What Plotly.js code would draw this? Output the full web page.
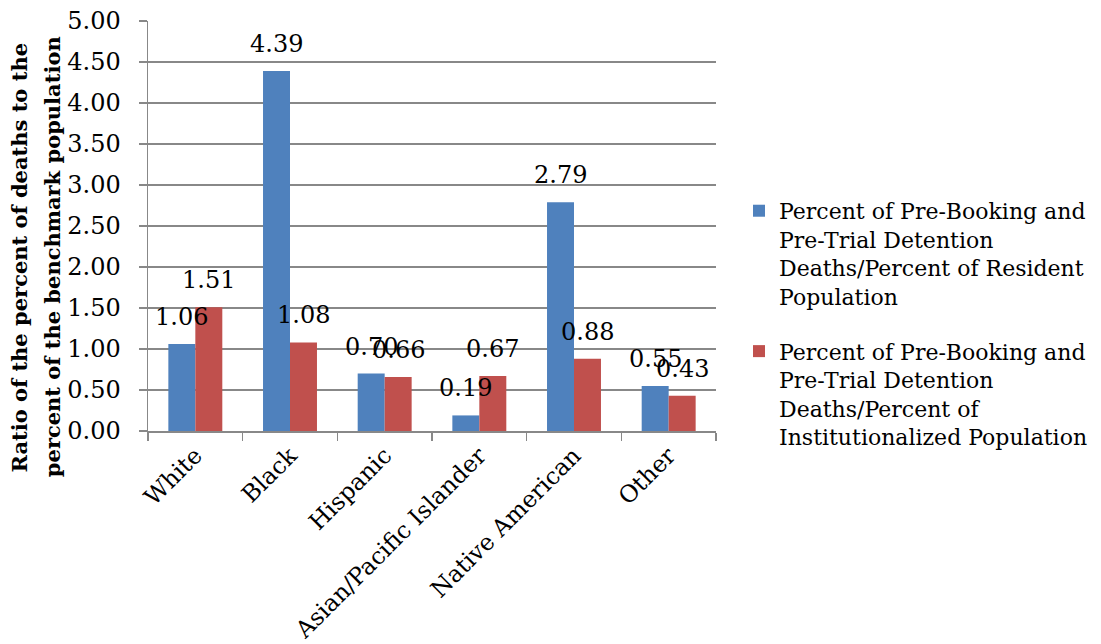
<!DOCTYPE html>
<html>
<head>
<meta charset="utf-8">
<script src="https://cdn.plot.ly/plotly-3.0.1.min.js"></script>
<style>html,body{margin:0;padding:0;background:#fff;}#chart{width:1101px;height:644px;}</style>
</head>
<body>
<div id="chart"></div>
<script>
var categories = ["White", "Black", "Hispanic", "Asian/Pacific Islander", "Native American", "Other"];
var residentRatio = [1.06, 4.39, 0.70, 0.19, 2.79, 0.55];
var institutionalRatio = [1.51, 1.08, 0.66, 0.67, 0.88, 0.43];
var seriesNames = [
  "Percent of Pre-Booking and<br>Pre-Trial Detention<br>Deaths/Percent of Resident<br>Population",
  "Percent of Pre-Booking and<br>Pre-Trial Detention<br>Deaths/Percent of<br>Institutionalized Population"
];
var yTitleLines = ["Ratio of the percent of deaths to the", "percent of the benchmark population"];

var FONT = "DejaVu Serif";
var bargap = 0.43;
var half = (1 - bargap) / 4;
var gridCol = "#888888";

var traces = [
  {type: "bar", x: categories, y: residentRatio, name: seriesNames[0], legendgroup: "a",
   marker: {color: "#4F81BD"}, hoverinfo: "y"},
  {type: "bar", x: categories, y: institutionalRatio, name: seriesNames[1], legendgroup: "b",
   marker: {color: "#C0504D"}, hoverinfo: "y"}
];

var annotations = [];
[residentRatio, institutionalRatio].forEach(function (vals, s) {
  vals.forEach(function (v, i) {
    annotations.push({
      x: i + (s === 0 ? -half : half), y: v, xref: "x", yref: "y",
      text: v.toFixed(2), showarrow: false, yanchor: "middle", yshift: 27,
      font: {family: FONT, size: 24, color: "#000"}
    });
  });
});
var titleX = [-0.2265, -0.1690];
yTitleLines.forEach(function (t, k) {
  annotations.push({
    xref: "paper", yref: "paper", x: titleX[k], y: 0.424, xanchor: "center", yanchor: "middle",
    text: t, textangle: -90, showarrow: false,
    font: {family: FONT, size: 21, color: "#000", weight: "bold"}
  });
});

var layout = {
  width: 1101, height: 644,
  margin: {l: 148, r: 385, t: 21, b: 213, autoexpand: false},
  paper_bgcolor: "#fff", plot_bgcolor: "#fff",
  barmode: "group", bargap: bargap, bargroupgap: 0,
  font: {family: FONT, size: 24, color: "#000"},
  xaxis: {
    type: "category", tickson: "boundaries", ticks: "outside", ticklen: 8,
    tickcolor: gridCol, tickwidth: 1.5, showline: true, linecolor: gridCol, linewidth: 1.5,
    showgrid: false, tickangle: -45, tickfont: {family: FONT, size: 23.5, color: "#000"}
  },
  yaxis: {
    range: [0, 5], dtick: 0.5, tick0: 0, tickformat: ".2f", ticks: "outside", ticklen: 8,
    tickcolor: gridCol, tickwidth: 1.5, showline: true, linecolor: gridCol, linewidth: 1.5,
    showgrid: true, gridcolor: gridCol, gridwidth: 1.3, zeroline: false,
    ticklabelstandoff: 13, tickfont: {family: FONT, size: 24, color: "#000"}
  },
  showlegend: true,
  legend: {
    x: 1.0405, xanchor: "left", y: 0.588, yanchor: "top", valign: "top",
    traceorder: "grouped", tracegroupgap: 23,
    font: {family: FONT, size: 22, color: "#000"}, bgcolor: "rgba(0,0,0,0)"
  },
  annotations: annotations
};

Plotly.newPlot("chart", traces, layout, {displayModeBar: false, staticPlot: true});
</script>
</body>
</html>
